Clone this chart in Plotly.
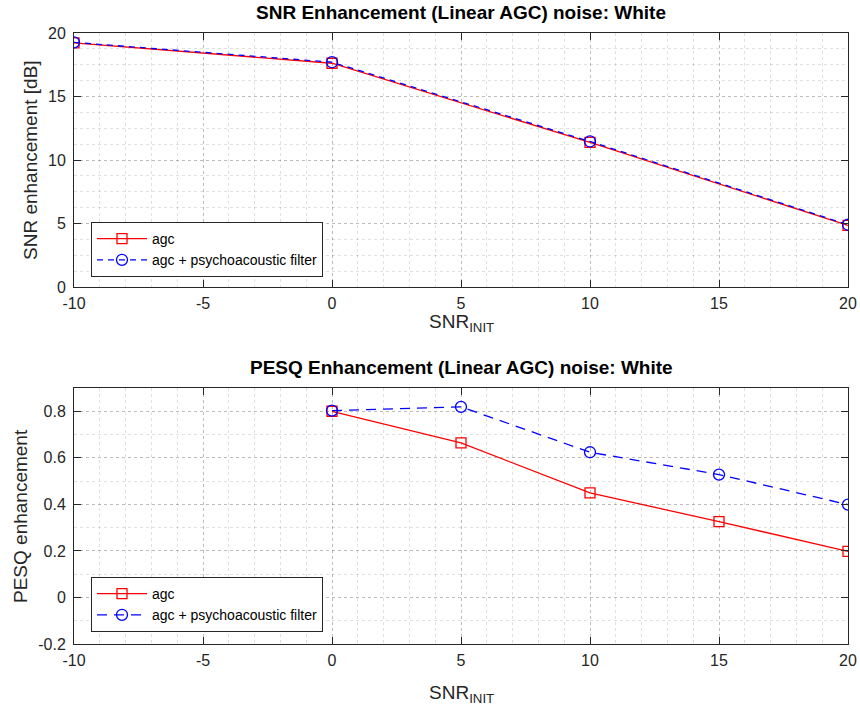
import plotly.graph_objects as go

# ---- data ----
snr_x = [-10, 0, 10, 20]
snr_agc = [19.22, 17.62, 11.38, 4.85]
snr_agc_psy = [19.26, 17.70, 11.46, 4.90]

pesq_x = [0, 5, 10, 15, 20]
pesq_agc = [0.800, 0.664, 0.449, 0.326, 0.198]
pesq_agc_psy = [0.803, 0.819, 0.624, 0.528, 0.399]

x_ticks = [-10, -5, 0, 5, 10, 15, 20]
x_tick_text = ["-10", "-5", "0", "5", "10", "15", "20"]
snr_y_ticks = [0, 5, 10, 15, 20]
snr_y_text = ["0", "5", "10", "15", "20"]
pesq_y_ticks = [-0.2, 0, 0.2, 0.4, 0.6, 0.8]
pesq_y_text = ["-0.2", "0", "0.2", "0.4", "0.6", "0.8"]

W, H = 860, 709
FONT = "Liberation Sans, Arial, Helvetica, sans-serif"
AX = "#262626"
GRID = "rgba(0,0,0,0.16)"
MINOR = "rgba(0,0,0,0.12)"
TICK_SIZE = 16

def fx(p):
    return p / W

def fy(p):
    return 1 - p / H

fig = go.Figure()

red = "#ff0000"
blue = "#0000ff"

fig.add_trace(go.Scatter(x=snr_x, y=snr_agc, name="agc", mode="lines+markers",
                         line=dict(color=red, width=1.3),
                         marker=dict(symbol="square-open", size=10, color=red, line=dict(width=1.3)),
                         xaxis="x", yaxis="y", legend="legend"))
fig.add_trace(go.Scatter(x=snr_x, y=snr_agc_psy, name="agc + psychoacoustic filter", mode="lines+markers",
                         line=dict(color=blue, width=1.3, dash="6px,5px"),
                         marker=dict(symbol="circle-open", size=11, color=blue, line=dict(width=1.3)),
                         xaxis="x", yaxis="y", legend="legend"))
fig.add_trace(go.Scatter(x=pesq_x, y=pesq_agc, name="agc", mode="lines+markers",
                         line=dict(color=red, width=1.3),
                         marker=dict(symbol="square-open", size=10, color=red, line=dict(width=1.3)),
                         xaxis="x2", yaxis="y2", legend="legend2"))
fig.add_trace(go.Scatter(x=pesq_x, y=pesq_agc_psy, name="agc + psychoacoustic filter", mode="lines+markers",
                         line=dict(color=blue, width=1.3, dash="10px,7px"),
                         marker=dict(symbol="circle-open", size=11, color=blue, line=dict(width=1.3)),
                         xaxis="x2", yaxis="y2", legend="legend2"))

def xaxis(domain, anchor):
    return dict(domain=domain, anchor=anchor, range=[-10, 20],
                tickmode="array", tickvals=x_ticks, ticktext=x_tick_text,
                ticks="inside", ticklen=7, tickcolor=AX, tickwidth=1,
                showline=True, linecolor=AX, linewidth=1, mirror="ticks",
                showgrid=True, gridcolor=GRID, griddash="dot", gridwidth=1,
                minor=dict(dtick=1, showgrid=True, gridcolor=MINOR, griddash="dot", gridwidth=1, ticks=""),
                zeroline=False, automargin=False, ticklabelstandoff=2,
                tickfont=dict(size=TICK_SIZE, color=AX, family=FONT))

def yaxis(domain, anchor, rng, ticks, text, minor_dtick):
    return dict(domain=domain, anchor=anchor, range=rng,
                tickmode="array", tickvals=ticks, ticktext=text,
                ticks="inside", ticklen=7, tickcolor=AX, tickwidth=1,
                showline=True, linecolor=AX, linewidth=1, mirror="ticks",
                showgrid=True, gridcolor=GRID, griddash="dot", gridwidth=1,
                minor=dict(dtick=minor_dtick, tick0=0, showgrid=True, gridcolor=MINOR, griddash="dot", gridwidth=1, ticks=""),
                zeroline=False, automargin=False, ticklabelstandoff=4,
                tickfont=dict(size=TICK_SIZE, color=AX, family=FONT))

xd = [fx(74), fx(848)]
top_y = [fy(287), fy(33)]
bot_y = [fy(644), fy(388)]

fig.update_layout(
    width=W, height=H,
    margin=dict(l=0, r=0, t=0, b=0, autoexpand=False),
    paper_bgcolor="white", plot_bgcolor="white",
    font=dict(family=FONT, color=AX),
    xaxis=xaxis(xd, "y"),
    yaxis=yaxis(top_y, "x", [0, 20], snr_y_ticks, snr_y_text, 1.25),
    xaxis2=xaxis(xd, "y2"),
    yaxis2=yaxis(bot_y, "x2", [-0.2, 0.9], pesq_y_ticks, pesq_y_text, 0.1),
    legend=dict(x=fx(91), y=fy(222), xanchor="left", yanchor="top",
                bgcolor="white", bordercolor=AX, borderwidth=1,
                font=dict(size=14, color="black", family=FONT), tracegroupgap=0,
                itemwidth=50),
    legend2=dict(x=fx(91), y=fy(577), xanchor="left", yanchor="top",
                 bgcolor="white", bordercolor=AX, borderwidth=1,
                 font=dict(size=14, color="black", family=FONT), tracegroupgap=0,
                 itemwidth=50),
    showlegend=True,
    hovermode=False,
)

ann = [
    dict(text="<b>SNR Enhancement (Linear AGC) noise: White</b>", x=fx(461), y=fy(13),
         font=dict(size=19, color="black")),
    dict(text="<b>PESQ Enhancement (Linear AGC) noise: White</b>", x=fx(461), y=fy(367),
         font=dict(size=19, color="black")),
    dict(text="SNR<sub>INIT</sub>", x=fx(461), y=fy(323), font=dict(size=19, color=AX)),
    dict(text="SNR<sub>INIT</sub>", x=fx(461), y=fy(694), font=dict(size=19, color=AX)),
    dict(text="SNR enhancement [dB]", x=fx(30), y=fy(160), textangle=-90, font=dict(size=19, color=AX)),
    dict(text="PESQ enhancement", x=fx(20), y=fy(516), textangle=-90, font=dict(size=19, color=AX)),
]
for a in ann:
    a.update(xref="paper", yref="paper", showarrow=False, xanchor="center", yanchor="middle")
fig.update_layout(annotations=ann)

fig.write_html("out.html", config={"displayModeBar": False},
               post_script="document.body.style.margin='0';document.body.style.overflow='hidden';")
